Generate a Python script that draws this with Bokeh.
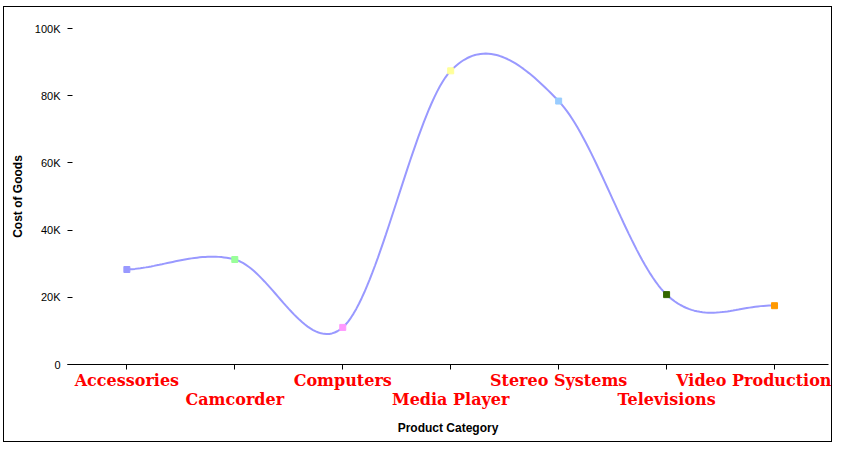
import numpy as np
from bokeh.plotting import figure
from bokeh.models import Range1d, FixedTicker, ColumnDataSource
from bokeh.embed import file_html
from bokeh.resources import INLINE

# ---- data ----
categories = ["Accessories", "Camcorder", "Computers", "Media Player",
              "Stereo Systems", "Televisions", "Video Production"]
cost_of_goods = [28270, 31250, 11040, 87400, 78400, 20800, 17500]
point_colors = ["#9999ff", "#99ff99", "#ff99ff", "#ffff99",
                "#99ccff", "#336600", "#ff9900"]
y_ticks = [0, 20000, 40000, 60000, 80000, 100000]
y_tick_labels = ["0", "20K", "40K", "60K", "80K", "100K"]

xs = list(range(len(categories)))

# smooth (Catmull-Rom) curve through the data points
def catmull_rom(x, y, n=40):
    x = np.asarray(x, float)
    y = np.asarray(y, float)
    m = np.zeros_like(y)
    m[1:-1] = (y[2:] - y[:-2]) / 2.0
    m[0] = (y[1] - y[0]) / 2.0
    m[-1] = (y[-1] - y[-2]) / 2.0
    cx, cy = [], []
    for i in range(len(x) - 1):
        t = np.linspace(0, 1, n, endpoint=(i == len(x) - 2))
        h00 = 2 * t**3 - 3 * t**2 + 1
        h10 = t**3 - 2 * t**2 + t
        h01 = -2 * t**3 + 3 * t**2
        h11 = t**3 - t**2
        cy.extend(h00 * y[i] + h10 * m[i] + h01 * y[i + 1] + h11 * m[i + 1])
        cx.extend(x[i] + t * (x[i + 1] - x[i]))
    return cx, cy

curve_x, curve_y = catmull_rom(xs, cost_of_goods)

p = figure(width=829, height=436, output_backend="svg", toolbar_location=None,
           x_range=Range1d(-0.55, 6.5), y_range=Range1d(0, 100000),
           min_border_left=63, min_border_right=5, min_border_top=21,
           min_border_bottom=79)
p.styles = {"border": "1px solid black", "box-sizing": "border-box",
            "margin-left": "3px", "margin-top": "6px"}
p.outline_line_color = None
p.grid.visible = False
p.background_fill_color = "white"
p.border_fill_color = "white"

p.line(curve_x, curve_y, line_color="#9999ff", line_width=2)
src = ColumnDataSource(dict(x=xs, y=cost_of_goods, c=point_colors))
p.scatter("x", "y", source=src, marker="square", size=6,
          fill_color="c", line_color="c")

# x axis
xa = p.xaxis[0]
xa.ticker = FixedTicker(ticks=xs)
xa.major_label_overrides = {i: (c if i % 2 == 0 else "\n" + c)
                            for i, c in enumerate(categories)}
xa.major_label_text_font = "DejaVu Serif"
xa.major_label_text_font_style = "bold"
xa.major_label_text_font_size = "16px"
xa.major_label_text_line_height = 1.02
xa.major_label_text_color = "red"
xa.major_label_standoff = 1
xa.major_tick_in = 0
xa.major_tick_out = 5
xa.minor_tick_line_color = None
xa.axis_line_color = "black"
xa.axis_label = "Product Category"
xa.axis_label_text_font = "Liberation Sans"
xa.axis_label_text_font_style = "bold"
xa.axis_label_text_font_size = "12px"
xa.axis_label_text_color = "black"
xa.axis_label_standoff = 9

# y axis
ya = p.yaxis[0]
ya.ticker = FixedTicker(ticks=y_ticks)
ya.major_label_overrides = dict(zip(y_ticks, y_tick_labels))
ya.major_label_text_font = "Liberation Sans"
ya.major_label_text_font_size = "11px"
ya.major_label_text_color = "black"
ya.major_label_standoff = 7
ya.major_tick_in = 5
ya.major_tick_out = 0
ya.minor_tick_line_color = None
ya.axis_line_color = None
ya.axis_label = "Cost of Goods"
ya.axis_label_text_font = "Liberation Sans"
ya.axis_label_text_font_style = "bold"
ya.axis_label_text_font_size = "12px"
ya.axis_label_text_color = "black"
ya.axis_label_standoff = 7

open("out.html", "w").write(file_html(p, INLINE))
